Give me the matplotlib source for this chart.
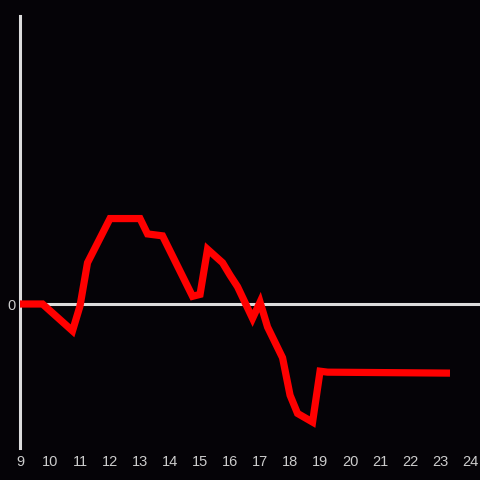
import matplotlib.pyplot as plt
import numpy as np

# time of day (hours) and value
hours = [9.0, 9.75, 10.75, 11.0, 11.25, 12.0, 13.0, 13.25, 13.75, 14.75, 15.0,
         15.25, 15.75, 16.0, 16.25, 16.75, 17.0, 17.25, 17.75, 18.0, 18.25,
         18.75, 19.0, 19.25, 23.33]
values = [0, 0, -2.8, -0.2, 4.3, 8.9, 8.9, 7.3, 7.1, 0.8, 1.0,
          5.7, 4.3, 3.0, 1.8, -1.5, 0.2, -2.4, -5.6, -9.5, -11.4,
          -12.3, -7.0, -7.1, -7.2]
xticks = list(range(9, 25))

bg = '#050307'
fg = '#dcdcdc'

fig = plt.figure(figsize=(4.8, 4.8), dpi=100, facecolor=bg)
ax = fig.add_axes([20/480, 32/480, 460/480, 432/480], facecolor=bg)

ax.axhline(0, color=fg, lw=2.2, zorder=1)
ax.plot(hours, values, color='#ff0000', lw=5.2, solid_joinstyle='miter',
        solid_capstyle='butt', zorder=3)

ax.set_xlim(9, 24.33)
ax.set_ylim(-15, 30)

for s in ['top', 'right', 'bottom']:
    ax.spines[s].set_visible(False)
ax.spines['left'].set_color(fg)
ax.spines['left'].set_linewidth(2.2)

ax.set_xticks(xticks)
ax.set_xticklabels([str(t) for t in xticks])
ax.set_yticks([0])
ax.set_yticklabels(['0'])
ax.tick_params(length=0, colors='#cccccc', labelsize=10.5)
ax.tick_params(axis='x', pad=5)
ax.tick_params(axis='y', pad=3)
for lab in ax.get_xticklabels() + ax.get_yticklabels():
    lab.set_family('Liberation Sans')

fig.savefig('out.png', dpi=100, facecolor=bg)
